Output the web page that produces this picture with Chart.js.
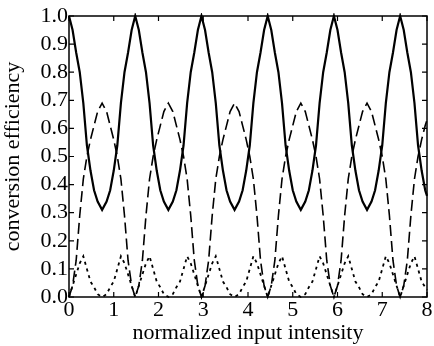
<!DOCTYPE html>
<html lang="en">
<head>
    <meta charset="UTF-8">
    <title>Conversion Efficiency</title>
    <style>
        body { margin: 0; padding: 0; background: #fff; }
        #chart { display: block; }
    </style>
</head>
<body>
    <canvas id="chart" width="434" height="346"></canvas>
    <script src="https://cdn.jsdelivr.net/npm/chart.js"></script>
    <script>
    // normalized input intensity (x positions of the read samples)
    const intensity = [
        0, 0.08, 0.16, 0.24, 0.32, 0.40, 0.48, 0.56, 0.64, 0.74, 0.84, 0.92, 1.00, 1.08, 1.16, 1.24, 1.32, 1.40,
        1.48, 1.56, 1.64, 1.72, 1.80, 1.88, 1.96, 2.04, 2.12, 2.22, 2.32, 2.40, 2.48, 2.56, 2.64, 2.72, 2.80, 2.88,
        2.96, 3.04, 3.12, 3.20, 3.28, 3.36, 3.44, 3.52, 3.60, 3.70, 3.80, 3.88, 3.96, 4.04, 4.12, 4.20, 4.28, 4.36,
        4.44, 4.52, 4.60, 4.68, 4.76, 4.84, 4.92, 5.00, 5.08, 5.18, 5.28, 5.36, 5.44, 5.52, 5.60, 5.68, 5.76, 5.84,
        5.92, 6.00, 6.08, 6.16, 6.24, 6.32, 6.40, 6.48, 6.56, 6.66, 6.76, 6.84, 6.92, 7.00, 7.08, 7.16, 7.24, 7.32,
        7.40, 7.48, 7.56, 7.64, 7.72, 7.80, 7.88, 7.96, 8.00
    ];
    // solid curve
    const solidEff = [
        1.00, 0.95, 0.87, 0.80, 0.69, 0.54, 0.45, 0.38, 0.34, 0.31, 0.34, 0.38, 0.45, 0.54, 0.69, 0.80, 0.87, 0.95,
        1.00, 0.95, 0.87, 0.80, 0.69, 0.54, 0.45, 0.38, 0.34, 0.31, 0.34, 0.38, 0.45, 0.54, 0.69, 0.80, 0.87, 0.95,
        1.00, 0.95, 0.87, 0.80, 0.69, 0.54, 0.45, 0.38, 0.34, 0.31, 0.34, 0.38, 0.45, 0.54, 0.69, 0.80, 0.87, 0.95,
        1.00, 0.95, 0.87, 0.80, 0.69, 0.54, 0.45, 0.38, 0.34, 0.31, 0.34, 0.38, 0.45, 0.54, 0.69, 0.80, 0.87, 0.95,
        1.00, 0.95, 0.87, 0.80, 0.69, 0.54, 0.45, 0.38, 0.34, 0.31, 0.34, 0.38, 0.45, 0.54, 0.69, 0.80, 0.87, 0.95,
        1.00, 0.95, 0.87, 0.80, 0.69, 0.54, 0.45, 0.38, 0.36
    ];
    // dashed curve
    const dashedEff = [
        0.00, 0.04, 0.13, 0.29, 0.42, 0.50, 0.56, 0.61, 0.66, 0.69, 0.66, 0.61, 0.56, 0.50, 0.42, 0.29, 0.13, 0.04,
        0.00, 0.04, 0.13, 0.29, 0.42, 0.50, 0.56, 0.61, 0.66, 0.69, 0.66, 0.61, 0.56, 0.50, 0.42, 0.29, 0.13, 0.04,
        0.00, 0.04, 0.13, 0.29, 0.42, 0.50, 0.56, 0.61, 0.66, 0.69, 0.66, 0.61, 0.56, 0.50, 0.42, 0.29, 0.13, 0.04,
        0.00, 0.04, 0.13, 0.29, 0.42, 0.50, 0.56, 0.61, 0.66, 0.69, 0.66, 0.61, 0.56, 0.50, 0.42, 0.29, 0.13, 0.04,
        0.00, 0.04, 0.13, 0.29, 0.42, 0.50, 0.56, 0.61, 0.66, 0.69, 0.66, 0.61, 0.56, 0.50, 0.42, 0.29, 0.13, 0.04,
        0.00, 0.04, 0.13, 0.29, 0.42, 0.50, 0.56, 0.61, 0.63
    ];
    // dotted curve
    const dottedEff = [
        0.00, 0.04, 0.08, 0.12, 0.145, 0.10, 0.055, 0.035, 0.01, 0.00, 0.01, 0.035, 0.055, 0.10, 0.145, 0.12, 0.08, 0.04,
        0.00, 0.04, 0.08, 0.12, 0.145, 0.10, 0.055, 0.035, 0.01, 0.00, 0.01, 0.035, 0.055, 0.10, 0.145, 0.12, 0.08, 0.04,
        0.00, 0.04, 0.08, 0.12, 0.145, 0.10, 0.055, 0.035, 0.01, 0.00, 0.01, 0.035, 0.055, 0.10, 0.145, 0.12, 0.08, 0.04,
        0.00, 0.04, 0.08, 0.12, 0.145, 0.10, 0.055, 0.035, 0.01, 0.00, 0.01, 0.035, 0.055, 0.10, 0.145, 0.12, 0.08, 0.04,
        0.00, 0.04, 0.08, 0.12, 0.145, 0.10, 0.055, 0.035, 0.01, 0.00, 0.01, 0.035, 0.055, 0.10, 0.145, 0.12, 0.08, 0.04,
        0.00, 0.04, 0.08, 0.12, 0.145, 0.10, 0.055, 0.035, 0.025
    ];
    const xTicks = [0, 1, 2, 3, 4, 5, 6, 7, 8];
    const yTicks = [0, 0.1, 0.2, 0.3, 0.4, 0.5, 0.6, 0.7, 0.8, 0.9, 1.0];

    const toPoints = ys => ys.map((y, i) => ({ x: intensity[i], y: y }));
    const serif = '"Liberation Serif", "DejaVu Serif", serif';

    // frame + inward ticks on all four sides
    const framePlugin = {
        id: 'frame',
        afterDraw(chart) {
            const { ctx, chartArea: a, scales } = chart;
            ctx.save();
            ctx.strokeStyle = '#000';
            ctx.lineWidth = 1.5;
            ctx.strokeRect(a.left, a.top, a.right - a.left, a.bottom - a.top);
            ctx.lineWidth = 1.2;
            ctx.beginPath();
            xTicks.forEach(v => {
                const px = scales.x.getPixelForValue(v);
                ctx.moveTo(px, a.bottom); ctx.lineTo(px, a.bottom - 5);
                ctx.moveTo(px, a.top); ctx.lineTo(px, a.top + 5);
            });
            yTicks.forEach(v => {
                const py = scales.y.getPixelForValue(v);
                ctx.moveTo(a.left, py); ctx.lineTo(a.left + 5, py);
                ctx.moveTo(a.right, py); ctx.lineTo(a.right - 5, py);
            });
            ctx.stroke();
            ctx.restore();
        }
    };

    new Chart(document.getElementById('chart').getContext('2d'), {
        type: 'line',
        data: {
            datasets: [
                {
                    data: toPoints(solidEff),
                    borderColor: '#000',
                    borderWidth: 2.2,
                    tension: 0
                },
                {
                    data: toPoints(dashedEff),
                    borderColor: '#000',
                    borderWidth: 1.6,
                    borderDash: [11, 5],
                    tension: 0
                },
                {
                    data: toPoints(dottedEff),
                    borderColor: '#000',
                    borderWidth: 1.8,
                    borderDash: [3, 4],
                    tension: 0
                }
            ]
        },
        options: {
            responsive: false,
            animation: false,
            clip: 3,
            elements: { point: { radius: 0 } },
            layout: { padding: { top: 16, right: 7, left: 0, bottom: 0 } },
            plugins: {
                legend: { display: false },
                tooltip: { enabled: false }
            },
            scales: {
                x: {
                    type: 'linear',
                    min: 0,
                    max: 8,
                    grid: { display: false, drawTicks: false },
                    border: { display: false },
                    afterBuildTicks: s => { s.ticks = xTicks.map(v => ({ value: v })); },
                    afterFit: s => { s.height = 49; },
                    ticks: {
                        color: '#000',
                        padding: 0,
                        autoSkip: false,
                        maxRotation: 0,
                        font: { family: serif, size: 22 }
                    },
                    title: {
                        display: true,
                        text: 'normalized input intensity',
                        color: '#000',
                        padding: 0,
                        font: { family: serif, size: 22 }
                    }
                },
                y: {
                    min: 0,
                    max: 1,
                    grid: { display: false, drawTicks: false },
                    border: { display: false },
                    afterBuildTicks: s => { s.ticks = yTicks.map(v => ({ value: v })); },
                    afterFit: s => { s.width = 69; },
                    ticks: {
                        color: '#000',
                        padding: 1,
                        autoSkip: false,
                        font: { family: serif, size: 22 },
                        callback: v => v.toFixed(1)
                    },
                    title: {
                        display: true,
                        text: 'conversion efficiency',
                        color: '#000',
                        padding: 0,
                        font: { family: serif, size: 22 }
                    }
                }
            }
        },
        plugins: [framePlugin]
    });
    </script>
</body>
</html>
